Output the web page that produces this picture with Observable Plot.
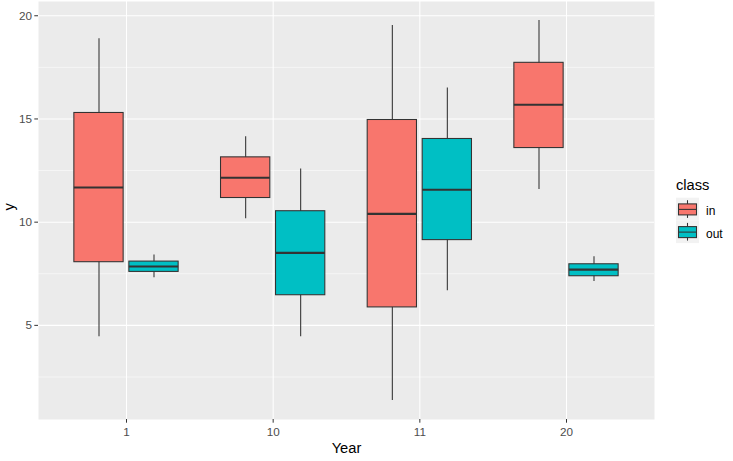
<!DOCTYPE html>
<html>
<head>
<meta charset="utf-8">
<script src="https://cdn.jsdelivr.net/npm/d3@7"></script>
<script src="https://cdn.jsdelivr.net/npm/@observablehq/plot@0.6"></script>
<style>
  html, body { margin: 0; padding: 0; background: #fff; }
  #chart { position: relative; width: 733px; height: 461px; }
  #chart svg { position: absolute; left: 0; top: 0; }
</style>
</head>
<body>
<div id="chart"></div>
<script>
// Categories and groups
const years = ["1", "10", "11", "20"];
const classes = ["in", "out"];
const classColors = ["#F8766D", "#00BFC4"];

// Box statistics per year (lower whisker, Q1, median, Q3, upper whisker)
const inLow    = [4.45, 10.17, 1.36, 11.58];
const inQ1     = [8.06, 11.17, 5.87, 13.59];
const inMedian = [11.68, 12.15, 10.40, 15.69];
const inQ3     = [15.29, 13.14, 14.95, 17.72];
const inHigh   = [18.88, 14.14, 19.53, 19.77];

const outLow    = [7.31, 4.45, 6.68, 7.12];
const outQ1     = [7.59, 6.46, 9.13, 7.38];
const outMedian = [7.85, 8.51, 11.57, 7.70];
const outQ3     = [8.09, 10.53, 14.03, 7.96];
const outHigh   = [8.41, 12.57, 16.50, 8.32];

// Axis ticks
const yMajor = [5, 10, 15, 20];
const yMinor = [2.5, 7.5, 12.5, 17.5];

// Build the table of boxes
const stats = {
  in:  {low: inLow,  q1: inQ1,  med: inMedian,  q3: inQ3,  high: inHigh},
  out: {low: outLow, q1: outQ1, med: outMedian, q3: outQ3, high: outHigh}
};
const dodge = 0.1875, half = 0.168;
const boxes = [];
classes.forEach((c, k) => {
  years.forEach((yr, i) => {
    const s = stats[c];
    const cx = i + (k === 0 ? -dodge : dodge);
    boxes.push({year: yr, cls: c, cx, x1: cx - half, x2: cx + half,
      low: s.low[i], q1: s.q1[i], med: s.med[i], q3: s.q3[i], high: s.high[i]});
  });
});

// y range with 5% padding around the data
const yMin = d3.min(boxes, d => d.low), yMax = d3.max(boxes, d => d.high);
const pad = (yMax - yMin) * 0.05;

const plot = Plot.plot({
  width: 733,
  height: 461,
  marginLeft: 38,
  marginRight: 79,
  marginTop: 1,
  marginBottom: 42,
  style: {fontFamily: "'Liberation Sans', Arial, sans-serif", background: "transparent"},
  x: {type: "linear", domain: [-0.6, years.length - 0.4]},
  y: {domain: [yMin - pad, yMax + pad]},
  color: {domain: classes, range: classColors},
  marks: [
    Plot.frame({fill: "#EBEBEB", stroke: null}),
    Plot.gridY(yMinor, {stroke: "#fff", strokeOpacity: 1, strokeWidth: 0.53}),
    Plot.gridY(yMajor, {stroke: "#fff", strokeOpacity: 1, strokeWidth: 1.07}),
    Plot.gridX(d3.range(years.length), {stroke: "#fff", strokeOpacity: 1, strokeWidth: 1.07}),
    Plot.axisY(yMajor, {tickSize: 3.7, tickPadding: 2.9, stroke: "#333333", fill: "#4D4D4D", fontSize: 11.7, label: null}),
    Plot.axisX(d3.range(years.length), {tickSize: 3.7, tickPadding: 4.2, stroke: "#333333", fill: "#4D4D4D", fontSize: 11.7, label: null, tickFormat: i => years[i]}),
    // whiskers
    Plot.ruleX(boxes, {x: "cx", y1: "low", y2: "high", stroke: "#333333", strokeWidth: 1.07}),
    // boxes
    Plot.rect(boxes, {x1: "x1", x2: "x2", y1: "q1", y2: "q3", fill: "cls", stroke: "#333333", strokeWidth: 1.07}),
    // medians
    Plot.ruleY(boxes, {x1: "x1", x2: "x2", y: "med", stroke: "#333333", strokeWidth: 2.13}),
    // axis titles
    Plot.text(["Year"], {frameAnchor: "bottom", lineAnchor: "middle", dy: 29, fontSize: 14.7, fill: "#000"}),
    Plot.text(["y"], {frameAnchor: "left", rotate: -90, dx: -29, fontSize: 14.7, fill: "#000"})
  ]
});
document.getElementById("chart").appendChild(plot);

// Legend for the class fill
const legend = d3.select("#chart").append("svg")
  .attr("width", 733).attr("height", 461)
  .style("pointer-events", "none")
  .style("font-family", "'Liberation Sans', Arial, sans-serif");
legend.append("text").attr("x", 676).attr("y", 190)
  .attr("font-size", 14.7).attr("fill", "#000").text("class");
const keyTop = 197.7, keyH = 22.7, keyX = 676, keyW = 23;
classes.forEach((c, k) => {
  const y0 = keyTop + k * keyH;
  const g = legend.append("g");
  g.append("rect").attr("x", keyX).attr("y", y0).attr("width", keyW).attr("height", keyH).attr("fill", "#F2F2F2");
  const cx = keyX + keyW / 2;
  g.append("line").attr("x1", cx).attr("x2", cx).attr("y1", y0 + 2.5).attr("y2", y0 + keyH - 2.5)
    .attr("stroke", "#333333").attr("stroke-width", 1.07);
  g.append("rect").attr("x", keyX + 2.5).attr("y", y0 + 6.2).attr("width", keyW - 5).attr("height", 11)
    .attr("fill", classColors[k]).attr("stroke", "#333333").attr("stroke-width", 1.07);
  g.append("line").attr("x1", keyX + 2.5).attr("x2", keyX + keyW - 2.5).attr("y1", y0 + 11.7).attr("y2", y0 + 11.7)
    .attr("stroke", "#333333").attr("stroke-width", 1.07);
  g.append("text").attr("x", 706).attr("y", y0 + keyH / 2 + 2).attr("dy", "0.35em")
    .attr("font-size", 12).attr("fill", "#000").text(c);
});
</script>
</body>
</html>
